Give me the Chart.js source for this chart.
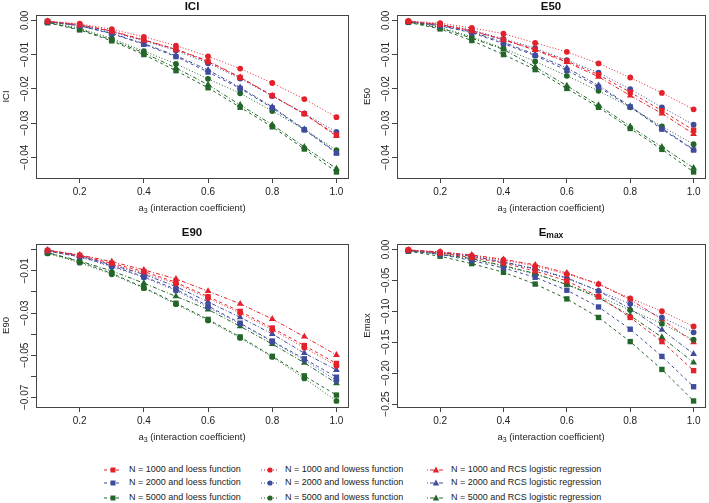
<!DOCTYPE html>
<html>
<head>
<meta charset="utf-8">
<script src="https://cdn.jsdelivr.net/npm/chart.js@4.4.1/dist/chart.umd.min.js"></script>
<style>
  body { margin: 0; background: #fff; width: 709px; height: 503px; overflow: hidden; position: relative;
         font-family: "Liberation Sans", Arial, sans-serif; }
  canvas { position: absolute; }
  .leg { position: absolute; font-size: 9px; line-height: 11px; color: #222; white-space: nowrap; }
</style>
</head>
<body>
<canvas id="ici" width="354" height="225" style="left:0;top:0"></canvas>
<canvas id="e50" width="355" height="225" style="left:354px;top:0"></canvas>
<canvas id="e90" width="354" height="235" style="left:0;top:225px"></canvas>
<canvas id="emax" width="355" height="235" style="left:354px;top:225px"></canvas>
<div id="legend"></div>
<script>
// a3 values (x axis)
const A3 = [0.1, 0.2, 0.3, 0.4, 0.5, 0.6, 0.7, 0.8, 0.9, 1.0];
const X_TICKS = [0.2, 0.4, 0.6, 0.8, 1.0];

// ICI
const ICI_LOESS_1000 = [-0.0003, -0.0013, -0.0032, -0.0058, -0.0085, -0.0121, -0.0167, -0.0220, -0.0273, -0.0335];
const ICI_LOESS_2000 = [-0.0004, -0.0016, -0.0039, -0.0070, -0.0106, -0.0151, -0.0199, -0.0256, -0.0320, -0.0388];
const ICI_LOESS_5000 = [-0.0007, -0.0028, -0.0060, -0.0100, -0.0147, -0.0197, -0.0254, -0.0311, -0.0376, -0.0443];
const ICI_LOWESS_1000 = [-0.0002, -0.0010, -0.0026, -0.0048, -0.0074, -0.0105, -0.0141, -0.0183, -0.0230, -0.0283];
const ICI_LOWESS_2000 = [-0.0003, -0.0014, -0.0034, -0.0060, -0.0088, -0.0125, -0.0170, -0.0221, -0.0272, -0.0326];
const ICI_LOWESS_5000 = [-0.0005, -0.0023, -0.0053, -0.0090, -0.0127, -0.0171, -0.0213, -0.0265, -0.0319, -0.0379];
const ICI_RCS_1000 = [-0.0003, -0.0013, -0.0031, -0.0057, -0.0084, -0.0119, -0.0166, -0.0220, -0.0274, -0.0338];
const ICI_RCS_2000 = [-0.0004, -0.0016, -0.0038, -0.0068, -0.0103, -0.0145, -0.0196, -0.0253, -0.0318, -0.0386];
const ICI_RCS_5000 = [-0.0006, -0.0026, -0.0057, -0.0095, -0.0139, -0.0188, -0.0247, -0.0305, -0.0370, -0.0433];
const ICI_TICKS = [0, -0.01, -0.02, -0.03, -0.04];

// E50
const E50_LOESS_1000 = [-0.0003, -0.0012, -0.0030, -0.0056, -0.0085, -0.0119, -0.0159, -0.0210, -0.0264, -0.0321];
const E50_LOESS_2000 = [-0.0004, -0.0016, -0.0036, -0.0068, -0.0103, -0.0146, -0.0195, -0.0253, -0.0318, -0.0379];
const E50_LOESS_5000 = [-0.0006, -0.0025, -0.0059, -0.0100, -0.0144, -0.0199, -0.0254, -0.0316, -0.0377, -0.0443];
const E50_LOWESS_1000 = [-0.0002, -0.0008, -0.0022, -0.0039, -0.0066, -0.0092, -0.0126, -0.0167, -0.0212, -0.0260];
const E50_LOWESS_2000 = [-0.0003, -0.0012, -0.0028, -0.0054, -0.0081, -0.0116, -0.0153, -0.0201, -0.0254, -0.0305];
const E50_LOWESS_5000 = [-0.0005, -0.0020, -0.0048, -0.0082, -0.0120, -0.0162, -0.0206, -0.0254, -0.0310, -0.0362];
const E50_RCS_1000 = [-0.0003, -0.0013, -0.0031, -0.0057, -0.0087, -0.0122, -0.0165, -0.0220, -0.0272, -0.0332];
const E50_RCS_2000 = [-0.0004, -0.0015, -0.0034, -0.0064, -0.0100, -0.0139, -0.0190, -0.0251, -0.0315, -0.0377];
const E50_RCS_5000 = [-0.0005, -0.0022, -0.0052, -0.0085, -0.0136, -0.0191, -0.0248, -0.0310, -0.0370, -0.0431];
const E50_TICKS = [0, -0.01, -0.02, -0.03, -0.04];

// E90
const E90_LOESS_1000 = [-0.0003, -0.0026, -0.0064, -0.0103, -0.0154, -0.0222, -0.0292, -0.0371, -0.0454, -0.0539];
const E90_LOESS_2000 = [-0.0006, -0.0032, -0.0076, -0.0127, -0.0187, -0.0266, -0.0348, -0.0433, -0.0517, -0.0604];
const E90_LOESS_5000 = [-0.0014, -0.0056, -0.0111, -0.0179, -0.0253, -0.0330, -0.0413, -0.0505, -0.0598, -0.0689];
const E90_LOWESS_1000 = [-0.0003, -0.0028, -0.0069, -0.0111, -0.0160, -0.0229, -0.0300, -0.0379, -0.0464, -0.0550];
const E90_LOWESS_2000 = [-0.0006, -0.0034, -0.0080, -0.0131, -0.0193, -0.0273, -0.0351, -0.0436, -0.0523, -0.0620];
const E90_LOWESS_5000 = [-0.0017, -0.0061, -0.0116, -0.0182, -0.0258, -0.0335, -0.0418, -0.0508, -0.0610, -0.0717];
const E90_RCS_1000 = [-0.0002, -0.0024, -0.0056, -0.0095, -0.0138, -0.0196, -0.0256, -0.0328, -0.0412, -0.0499];
const E90_RCS_2000 = [-0.0001, -0.0028, -0.0072, -0.0116, -0.0174, -0.0247, -0.0320, -0.0399, -0.0490, -0.0570];
const E90_RCS_5000 = [-0.0013, -0.0053, -0.0100, -0.0158, -0.0221, -0.0283, -0.0363, -0.0447, -0.0536, -0.0633];
const E90_TICKS = [0, -0.01, -0.02, -0.03, -0.04, -0.05, -0.06, -0.07];
const E90_LABELS = [-0.01, -0.03, -0.05, -0.07];

// Emax
const EMAX_LOESS_1000 = [-0.001, -0.006, -0.013, -0.022, -0.035, -0.051, -0.076, -0.110, -0.149, -0.196];
const EMAX_LOESS_2000 = [-0.002, -0.008, -0.018, -0.030, -0.045, -0.066, -0.093, -0.129, -0.173, -0.222];
const EMAX_LOESS_5000 = [-0.003, -0.011, -0.023, -0.037, -0.056, -0.080, -0.110, -0.149, -0.194, -0.245];
const EMAX_LOWESS_1000 = [-0.001, -0.004, -0.010, -0.017, -0.027, -0.040, -0.056, -0.079, -0.100, -0.1245];
const EMAX_LOWESS_2000 = [-0.001, -0.005, -0.012, -0.021, -0.032, -0.047, -0.067, -0.088, -0.110, -0.134];
const EMAX_LOWESS_5000 = [-0.002, -0.008, -0.016, -0.027, -0.040, -0.056, -0.076, -0.098, -0.120, -0.146];
const EMAX_RCS_1000 = [-0.001, -0.004, -0.009, -0.016, -0.025, -0.038, -0.056, -0.081, -0.113, -0.150];
const EMAX_RCS_2000 = [-0.001, -0.005, -0.011, -0.020, -0.031, -0.046, -0.067, -0.096, -0.130, -0.169];
const EMAX_RCS_5000 = [-0.002, -0.007, -0.015, -0.026, -0.039, -0.057, -0.078, -0.107, -0.142, -0.183];
const EMAX_TICKS = [0, -0.05, -0.10, -0.15, -0.20, -0.25];

const N_LABELS = ['N = 1000', 'N = 2000', 'N = 5000'];
const METHOD_LABELS = ['loess function', 'lowess function', 'RCS logistic regression'];

const COLORS = ['#E3212B', '#3F4C9C', '#24662A'];
const STYLES = [
  { dash: [3, 3], point: 'rect', r: 3.8 },        // loess
  { dash: [1, 2], point: 'circle', r: 2.9 },      // lowess
  { dash: [1, 2, 4, 2], point: 'triangle', r: 3.9 } // RCS
];
const FONT = '"Liberation Sans", Arial, sans-serif';

function fmt(v) {
  if (Math.abs(v) < 1e-12) return '0.00';
  return (v < 0 ? '\u2212' : '') + Math.abs(v).toFixed(2);
}

// draw a string made of runs (for subscripts), centered on cx
function drawRuns(ctx, runs, cx, y) {
  let total = 0;
  runs.forEach(r => { ctx.font = r.font; total += ctx.measureText(r.t).width; });
  let x = cx - total / 2;
  ctx.textAlign = 'left';
  runs.forEach(r => {
    ctx.font = r.font;
    ctx.fillText(r.t, x, y + (r.dy || 0));
    x += ctx.measureText(r.t).width;
  });
}

const rDecor = {
  id: 'rDecor',
  afterDraw(chart, args, o) {
    const { ctx, chartArea: a } = chart;
    const ys = chart.scales.y;
    ctx.save();
    ctx.strokeStyle = '#444';
    ctx.lineWidth = 1;
    ctx.strokeRect(Math.round(a.left) + 0.5, Math.round(a.top) + 0.5,
                   Math.round(a.right - a.left), Math.round(a.bottom - a.top));

    ctx.fillStyle = '#222';
    ctx.font = '10px ' + FONT;
    ctx.textAlign = 'center';
    ctx.textBaseline = 'alphabetic';
    o.yLabels.forEach(v => {
      ctx.save();
      ctx.translate(a.left - 8, ys.getPixelForValue(v));
      ctx.rotate(-Math.PI / 2);
      ctx.fillText(fmt(v), 0, 0);
      ctx.restore();
    });

    // y axis title
    ctx.font = '9.5px ' + FONT;
    ctx.textBaseline = 'middle';
    ctx.save();
    ctx.translate(a.left - 30, (a.top + a.bottom) / 2);
    ctx.rotate(-Math.PI / 2);
    ctx.fillText(o.yTitle, 0, 0);
    ctx.restore();

    // x axis title
    const cx = (a.left + a.right) / 2;
    drawRuns(ctx, [
      { t: 'a', font: '9.5px ' + FONT },
      { t: '3', font: '7px ' + FONT, dy: 3 },
      { t: ' (interaction coefficient)', font: '9.5px ' + FONT }
    ], cx, a.bottom + 30);

    // main title
    ctx.fillStyle = '#111';
    drawRuns(ctx, o.title, cx, a.top - o.titleGap);
    ctx.restore();
  }
};

function rRange(arrs) {
  const all = arrs.flat();
  const lo = Math.min(...all), hi = Math.max(...all);
  const d = (hi - lo) * 0.04;
  return [lo - d, hi + d];
}

function makePanel(id, series, yTicks, yLabels, yTitle, title, opts) {
  const datasets = [];
  series.forEach((group, m) => {
    group.forEach((vals, n) => {
      datasets.push({
        label: N_LABELS[n] + ' and ' + METHOD_LABELS[m],
        data: A3.map((x, i) => ({ x: x, y: vals[i] })),
        borderColor: COLORS[n],
        backgroundColor: COLORS[n],
        borderWidth: 1,
        borderDash: STYLES[m].dash,
        pointStyle: STYLES[m].point,
        pointRadius: STYLES[m].r,
        pointBorderWidth: 0,
        pointBackgroundColor: COLORS[n],
        tension: 0,
        fill: false
      });
    });
  });
  const [ymin, ymax] = rRange(series.flat());
  const bold = 'bold 11.5px ' + FONT;
  new Chart(document.getElementById(id), {
    type: 'line',
    data: { datasets: datasets },
    plugins: [rDecor],
    options: {
      responsive: false,
      devicePixelRatio: 1,
      animation: false,
      layout: { padding: { left: 0, top: opts.top, right: opts.right, bottom: 0 } },
      plugins: {
        legend: { display: false },
        tooltip: { enabled: false },
        rDecor: {
          yLabels: yLabels,
          yTitle: yTitle,
          titleGap: opts.titleGap,
          title: typeof title === 'string' ? [{ t: title, font: bold }] : title
        }
      },
      scales: {
        x: {
          type: 'linear',
          min: 0.1 - 0.036,
          max: 1.0 + 0.036,
          afterBuildTicks: s => { s.ticks = X_TICKS.map(v => ({ value: v })); },
          afterFit: s => { s.height = opts.xH; },
          ticks: {
            color: '#222',
            padding: 3,
            maxRotation: 0,
            font: { family: FONT, size: 10 },
            callback: v => v.toFixed(1)
          },
          grid: { drawOnChartArea: false, drawTicks: true, tickLength: 5, color: '#444' },
          border: { display: false }
        },
        y: {
          type: 'linear',
          min: ymin,
          max: ymax,
          afterBuildTicks: s => { s.ticks = yTicks.map(v => ({ value: v })); },
          afterFit: s => { s.width = opts.yW; },
          ticks: { display: false },
          grid: { drawOnChartArea: false, drawTicks: true, tickLength: 5, color: '#444' },
          border: { display: false }
        }
      }
    }
  });
}

makePanel('ici',
  [[ICI_LOESS_1000, ICI_LOESS_2000, ICI_LOESS_5000],
   [ICI_LOWESS_1000, ICI_LOWESS_2000, ICI_LOWESS_5000],
   [ICI_RCS_1000, ICI_RCS_2000, ICI_RCS_5000]],
  ICI_TICKS, ICI_TICKS, 'ICI', 'ICI',
  { top: 15, right: 6, yW: 36, xH: 47, titleGap: 8 });

makePanel('e50',
  [[E50_LOESS_1000, E50_LOESS_2000, E50_LOESS_5000],
   [E50_LOWESS_1000, E50_LOWESS_2000, E50_LOWESS_5000],
   [E50_RCS_1000, E50_RCS_2000, E50_RCS_5000]],
  E50_TICKS, E50_TICKS, 'E50', 'E50',
  { top: 15, right: 2, yW: 43, xH: 47, titleGap: 8 });

makePanel('e90',
  [[E90_LOESS_1000, E90_LOESS_2000, E90_LOESS_5000],
   [E90_LOWESS_1000, E90_LOWESS_2000, E90_LOWESS_5000],
   [E90_RCS_1000, E90_RCS_2000, E90_RCS_5000]],
  E90_TICKS, E90_LABELS, 'E90', 'E90',
  { top: 19, right: 6, yW: 36, xH: 53, titleGap: 11 });

makePanel('emax',
  [[EMAX_LOESS_1000, EMAX_LOESS_2000, EMAX_LOESS_5000],
   [EMAX_LOWESS_1000, EMAX_LOWESS_2000, EMAX_LOWESS_5000],
   [EMAX_RCS_1000, EMAX_RCS_2000, EMAX_RCS_5000]],
  EMAX_TICKS, EMAX_TICKS, 'Emax',
  [{ t: 'E', font: 'bold 11.5px ' + FONT }, { t: 'max', font: 'bold 8.5px ' + FONT, dy: 3 }],
  { top: 19, right: 2, yW: 43, xH: 53, titleGap: 11 });

// legend: columns = method, rows = N
const LEG_ROWS = [470, 482.5, 497.5];
const LEG_MARK_X = [113, 270, 436];
const LEG_TEXT_X = [129, 285, 451];
const legend = document.getElementById('legend');
METHOD_LABELS.forEach((ml, m) => {
  N_LABELS.forEach((nl, n) => {
    const c = document.createElement('canvas');
    c.width = 22; c.height = 10;
    c.style.left = (LEG_MARK_X[m] - 11) + 'px';
    c.style.top = (LEG_ROWS[n] - 5) + 'px';
    const g = c.getContext('2d');
    g.strokeStyle = COLORS[n];
    g.fillStyle = COLORS[n];
    g.lineWidth = 1;
    g.setLineDash(STYLES[m].dash);
    g.beginPath(); g.moveTo(2, 5); g.lineTo(20, 5); g.stroke();
    g.setLineDash([]);
    g.beginPath();
    if (m === 0) g.rect(8.5, 2.5, 5, 5);
    else if (m === 1) g.arc(11, 5, 2.6, 0, Math.PI * 2);
    else { g.moveTo(11, 1.6); g.lineTo(14.2, 7.4); g.lineTo(7.8, 7.4); g.closePath(); }
    g.fill();
    legend.appendChild(c);
    const s = document.createElement('span');
    s.className = 'leg';
    s.textContent = nl + ' and ' + ml;
    s.style.left = LEG_TEXT_X[m] + 'px';
    s.style.top = (LEG_ROWS[n] - 6) + 'px';
    legend.appendChild(s);
  });
});
</script>
</body>
</html>
